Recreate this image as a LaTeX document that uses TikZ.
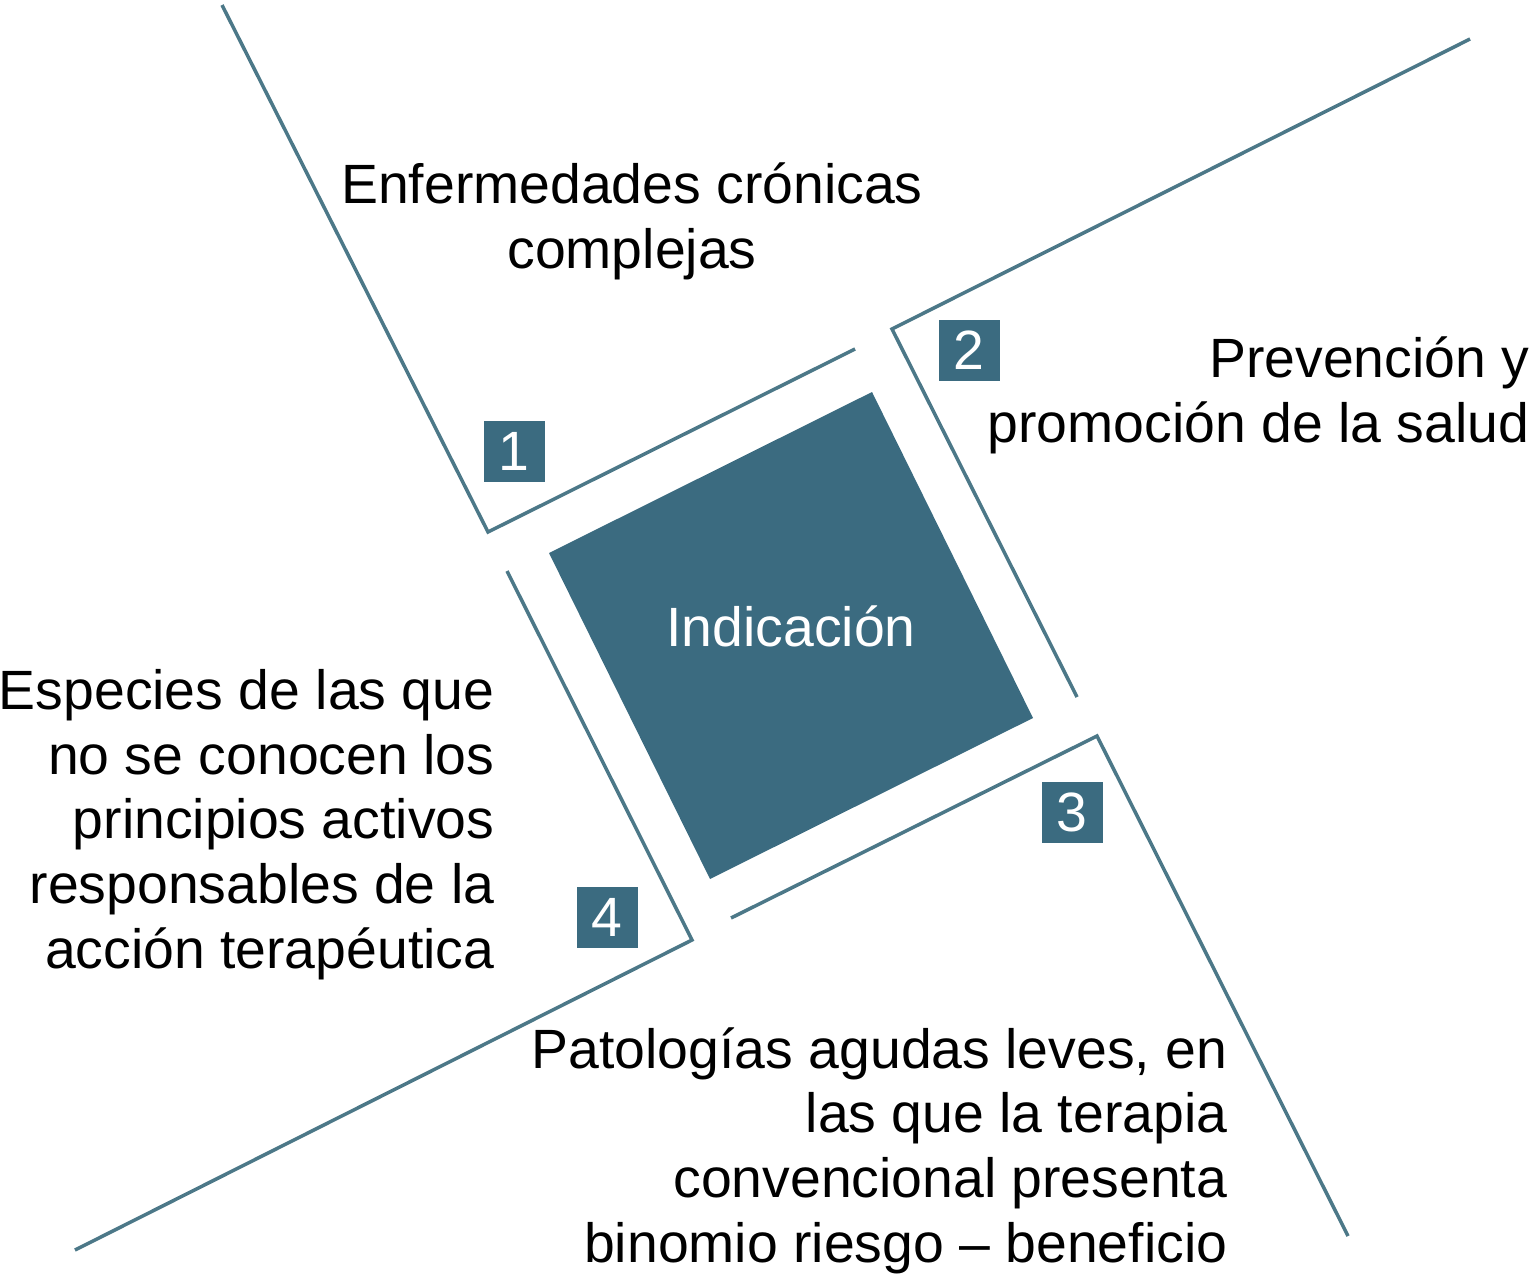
\documentclass[tikz,border=0pt]{standalone}
\usepackage{fontspec}
\setmainfont{Liberation Sans}
\usetikzlibrary{positioning}

\definecolor{tealsq}{HTML}{3B6B80}
\definecolor{tealln}{HTML}{4C7888}

\begin{document}
\begin{tikzpicture}[x=0.1mm, y=-0.1mm,
    frame/.style={draw=tealln, line width=1pt, line join=miter},
    numbox/.style={fill=tealsq, text=white, minimum width=6.1mm, minimum height=6.1mm,
      inner sep=0pt, font=\fontsize{15.75}{18.4}\selectfont},
    txt/.style={inner sep=0pt, font=\fontsize{15.75}{18.4}\selectfont}]
    \useasboundingbox (0,0) rectangle (1532,1280);
    % central square
    \coordinate (sqW) at (549,553);
    \coordinate (sqN) at (872,392);
    \coordinate (sqE) at (1033,718);
    \coordinate (sqS) at (710,879);
    \fill[tealsq] (sqW) -- (sqN) -- (sqE) -- (sqS) -- cycle;
    \node[txt, text=white, anchor=base] (ind) at (791,646) {Indicación};
    % corner frames
    \coordinate (a1) at (222,5);    \coordinate (c1) at (488,532);  \coordinate (b1) at (855,349);
    \coordinate (a2) at (1470,39);  \coordinate (c2) at (892,329);  \coordinate (b2) at (1077,697);
    \coordinate (a3) at (731,918);  \coordinate (c3) at (1097,736); \coordinate (b3) at (1348,1236);
    \coordinate (a4) at (507,571);  \coordinate (c4) at (692,940);  \coordinate (b4) at (75,1250);
    \draw[frame] (a1) -- (c1) -- (b1);
    \draw[frame] (a2) -- (c2) -- (b2);
    \draw[frame] (a3) -- (c3) -- (b3);
    \draw[frame] (a4) -- (c4) -- (b4);
    % numbers
    \node[numbox] (n1) at (514,451) {1};
    \node[numbox] (n2) at (969,350) {2};
    \node[numbox] (n3) at (1072,812) {3};
    \node[numbox] (n4) at (607,917) {4};
    % texts (base = last line)
    \node[txt, anchor=base, align=center] (t1) at (632,268)
      {Enfermedades crónicas\\complejas};
    \node[txt, anchor=base east, align=right] (t2) at (1530,442)
      {Prevención y\\promoción de la salud};
    \node[txt, anchor=base east, align=right] (t3) at (1228,1262)
      {Patologías agudas leves, en\\las que la terapia\\convencional presenta\\binomio riesgo -- beneficio};
    \node[txt, anchor=base east, align=right] (t4) at (495,968)
      {Especies de las que\\no se conocen los\\principios activos\\responsables de la\\acción terapéutica};
\end{tikzpicture}
\end{document}
